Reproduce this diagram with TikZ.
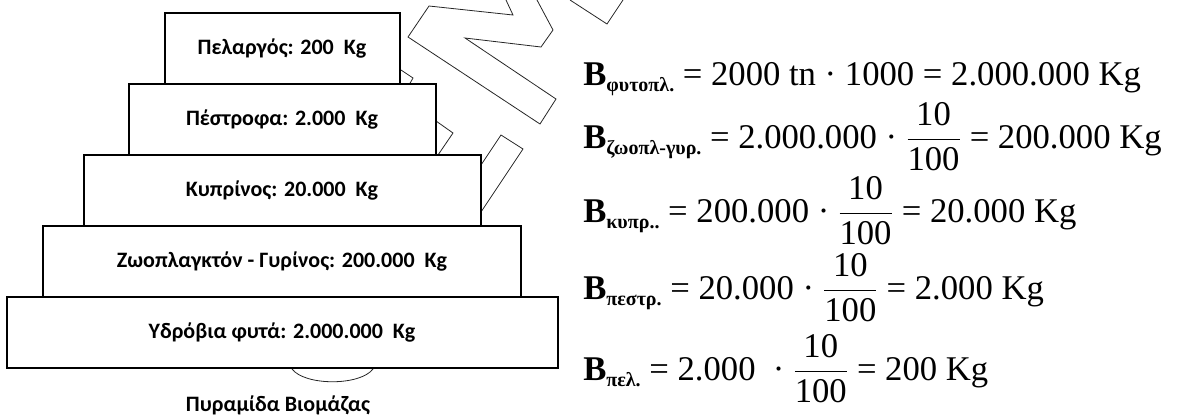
\documentclass[tikz,border=0pt]{standalone}
\usepackage{amsmath}
\usepackage{fontspec}
\setmainfont{Liberation Serif}
\newfontfamily\calibri{Carlito}
\usetikzlibrary{positioning}
\tikzstyle{level} = [rectangle, minimum height=53.25pt, text centered, draw=black, line width=1.5pt, fill=white, inner sep=0pt, outer sep=0pt, font=\calibri\bfseries\fontsize{16.5}{18}\selectfont]
\tikzstyle{caption} = [anchor=base, font=\calibri\bfseries\fontsize{16.5}{18}\selectfont]
\tikzstyle{eq} = [anchor=base west, inner sep=0pt, font=\fontsize{26}{30}\selectfont]
\tikzstyle{faint} = [line width=0.6pt, black!85]
\newcommand{\bio}[1]{\textbf{B}\raisebox{-4.5pt}{\fontsize{15}{15}\selectfont\bfseries #1}}
\newcommand{\tenth}{$\dfrac{\hbox{10}}{\hbox{100}}$}
\begin{document}
\begin{tikzpicture}[x=0.75pt, y=-0.75pt, node distance=53.25pt]
\useasboundingbox (0,0) rectangle (1181,415);

% shape behind the pyramid
\draw [faint] (506,0) -- (513,15) -- (429,6) -- (408,37) -- (540,124) -- (556,99) -- (465,38) -- (541,47) -- (553,30) -- (537,0);
\draw [faint] (570,0) -- (607,24) -- (623,0);
\draw [faint] (481,165) -- (501,135) -- (523,149) -- (481,212);
\draw [faint] (401,70) -- (413,78) -- (409,85);
\draw [faint] (436,121) -- (453,133) -- (438,155);
\draw [faint] (292,369) .. controls (305,386) and (360,386) .. (373,369);

\node (stork) [level, minimum width=176.25pt] at (282,48.5) {Πελαργός: 200~ Kg};
\node (trout) [level, minimum width=230.25pt, below of=stork] {Πέστροφα: 2.000~ Kg};
\node (carp) [level, minimum width=297.75pt, below of=trout] {Κυπρίνος: 20.000~ Kg};
\node (zoo) [level, minimum width=358.5pt, below of=carp] {Ζωοπλαγκτόν - Γυρίνος: 200.000~ Kg};
\node (plants) [level, minimum width=413.25pt, below of=zoo] {Υδρόβια φυτά: 2.000.000~ Kg};
\node (title) [caption] at (278,411) {Πυραμίδα Βιομάζας};

\node (eqplants) [eq] at (583,85) {\bio{φυτοπλ.} = 2000 tn · 1000 = 2.000.000 Kg};
\node (eqzoo) [eq] at (583,148) {\bio{ζωοπλ-γυρ.} = 2.000.000 · \tenth{} = 200.000 Kg};
\node (eqcarp) [eq] at (583,222) {\bio{κυπρ..} = 200.000 · \tenth{} = 20.000 Kg};
\node (eqtrout) [eq] at (583,299) {\bio{πεστρ.} = 20.000 · \tenth{} = 2.000 Kg};
\node (eqstork) [eq] at (583,380) {\bio{πελ.} = 2.000~ · \tenth{} = 200 Kg};
\end{tikzpicture}
\end{document}
